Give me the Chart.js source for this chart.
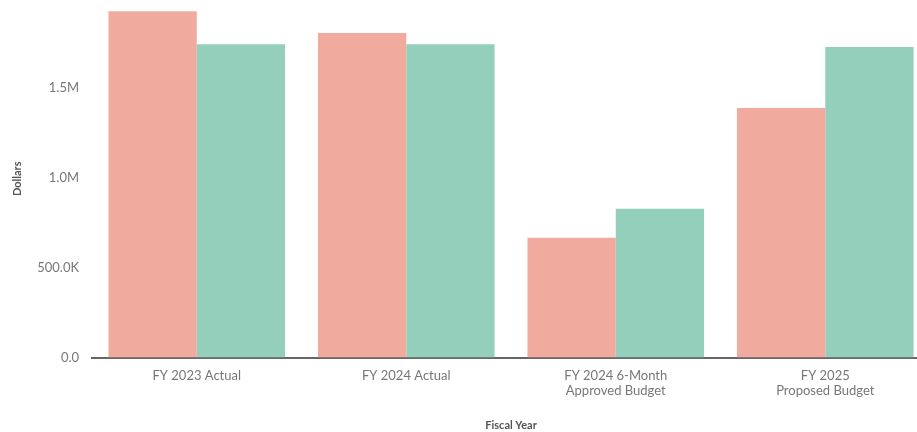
<!DOCTYPE html>
<html>
<head>
<meta charset="utf-8">
<script src="https://cdn.jsdelivr.net/npm/chart.js@4.4.1/dist/chart.umd.min.js"></script>
<style>
    html, body { margin: 0; padding: 0; background: #fff; overflow: hidden; }
    #wrap { width: 930px; height: 432px; }
</style>
</head>
<body>
<div id="wrap"><canvas id="chart"></canvas></div>
<script>
// --- Data ---
const categories = [
    'FY 2023 Actual',
    'FY 2024 Actual',
    ['FY 2024 6-Month', 'Approved Budget'],
    ['FY 2025', 'Proposed Budget']
];
const seriesA = [1928000, 1806000, 667000, 1389000];   // salmon
const seriesB = [1744000, 1744000, 828000, 1728000];   // green
const yTicks = [0, 500000, 1000000, 1500000];

function fmtDollars(v) {
    if (v >= 1000000) return (v / 1000000).toFixed(1) + 'M';
    if (v >= 1000) return (v / 1000).toFixed(1) + 'K';
    return v.toFixed(1);
}

Chart.defaults.font.family = 'Lato, "Open Sans", sans-serif';
Chart.defaults.color = '#666';

new Chart(document.getElementById('chart').getContext('2d'), {
    type: 'bar',
    data: {
        labels: categories,
        datasets: [{
            label: 'A',
            data: seriesA,
            backgroundColor: '#f0aa9e',
            borderWidth: 0
        }, {
            label: 'B',
            data: seriesB,
            backgroundColor: '#94cfbb',
            borderWidth: 0
        }]
    },
    options: {
        responsive: true,
        maintainAspectRatio: false,
        animation: false,
        layout: { padding: { top: 0, right: 0, bottom: 0, left: 0 } },
        categoryPercentage: 0.843,
        barPercentage: 1.0,
        plugins: {
            legend: { display: false },
            tooltip: { enabled: false }
        },
        scales: {
            x: {
                grid: { display: false, drawTicks: false },
                border: { display: true, color: '#666', width: 2 },
                afterFit: (scale) => {
                    scale.paddingLeft = 0;
                    scale.paddingRight = 0;
                },
                ticks: { font: { size: 13 }, color: '#777', padding: 10, maxRotation: 0 },
                title: {
                    display: true,
                    text: 'Fiscal Year',
                    font: { size: 11, weight: 'bold' },
                    color: '#555',
                    padding: { top: 10, bottom: 0 }
                }
            },
            y: {
                min: 0,
                max: 1990000,
                grid: { display: false, drawTicks: false },
                border: { display: false },
                afterBuildTicks: (scale) => {
                    scale.ticks = yTicks.map(v => ({ value: v }));
                },
                afterFit: (scale) => {
                    scale.paddingTop = 0;
                    scale.paddingBottom = 0;
                },
                ticks: {
                    font: { size: 13 },
                    color: '#777',
                    padding: 13,
                    callback: (v) => fmtDollars(v)
                },
                title: {
                    display: true,
                    text: 'Dollars',
                    font: { size: 11, weight: 'bold' },
                    color: '#555',
                    padding: { top: 11, bottom: 0 }
                }
            }
        }
    }
});
</script>
</body>
</html>
